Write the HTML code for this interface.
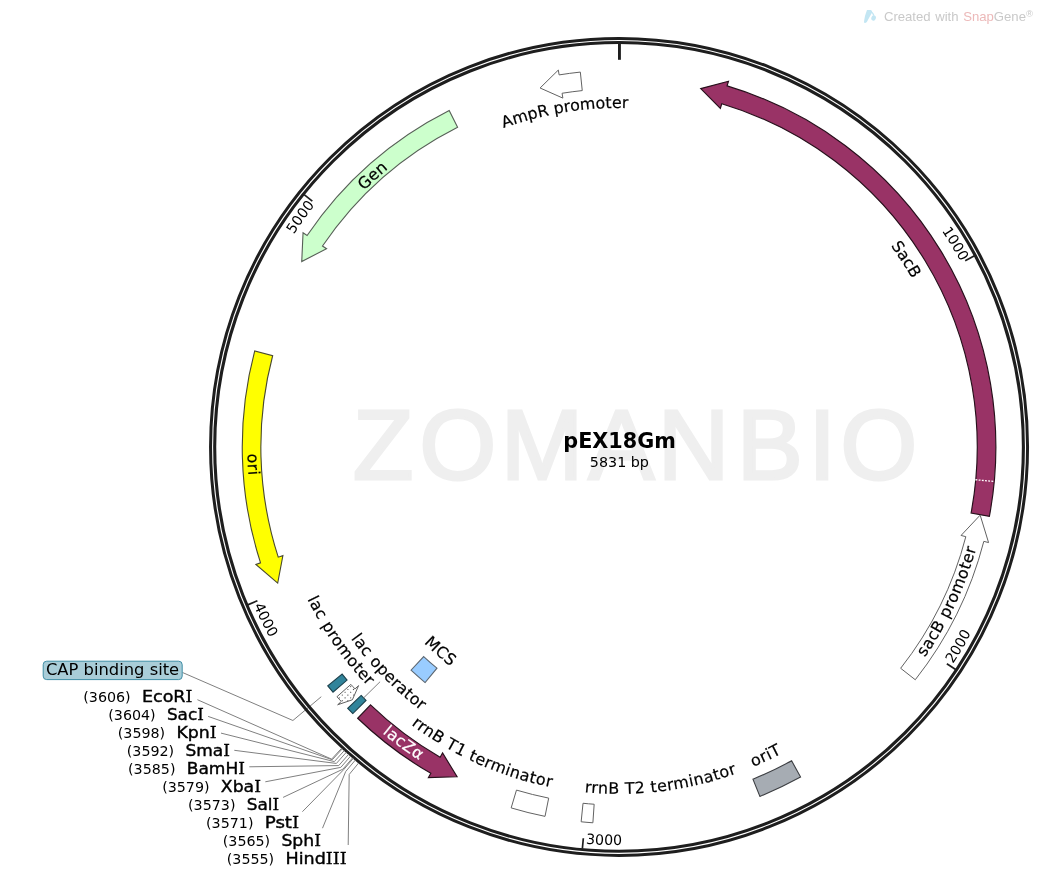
<!DOCTYPE html>
<html><head><meta charset="utf-8"><title>pEX18Gm</title>
<style>html,body{margin:0;padding:0;background:#fff}svg{display:block}</style>
</head><body>
<svg width="1043" height="887" viewBox="0 0 1043 887" font-family='"DejaVu Sans", "Liberation Sans", sans-serif'>
<polyline points="321.25,696.71 292.9,720.49 182.5,672.5" fill="none" stroke="#808080" stroke-width="1"/>
<text x="353 419.5 501 588.5 658 737 808.5 840.5" y="479.2" font-family='"Liberation Sans", sans-serif' font-size="98.5" fill="#efefef" stroke="#efefef" stroke-width="3">ZOMANBIO</text>
<circle cx="619.05" cy="446.9" r="408.5" fill="none" stroke="#1e1e1e" stroke-width="3.0"/>
<circle cx="619.05" cy="446.9" r="404.35" fill="none" stroke="#1e1e1e" stroke-width="3.1"/>
<line x1="619.45" y1="42.9" x2="619.45" y2="59.8" stroke="#1e1e1e" stroke-width="2.9"/>
<line x1="974.45" y1="255.85" x2="965.2" y2="260.82" stroke="#1e1e1e" stroke-width="1.7"/>
<path id="tp1" d="M877.69 157.01 A388.5 388.5 0 0 1 960.53 261.64" fill="none"/>
<text font-size="14.2" text-anchor="end"><textPath href="#tp1" startOffset="100%">1000</textPath></text>
<line x1="955.61" y1="669.48" x2="946.85" y2="663.69" stroke="#1e1e1e" stroke-width="1.7"/>
<path id="tp2" d="M952.87 664 A398.2 398.2 0 0 0 1006.28 539.71" fill="none"/>
<text font-size="14.2" text-anchor="start"><textPath href="#tp2" startOffset="0">2000</textPath></text>
<line x1="582.36" y1="848.73" x2="583.32" y2="838.27" stroke="#1e1e1e" stroke-width="1.7"/>
<path id="tp3" d="M585.89 843.72 A398.2 398.2 0 0 0 720.65 831.92" fill="none"/>
<text font-size="14.2" text-anchor="start"><textPath href="#tp3" startOffset="0">3000</textPath></text>
<line x1="247.75" y1="604.85" x2="257.41" y2="600.74" stroke="#1e1e1e" stroke-width="1.7"/>
<path id="tp4" d="M253.83 605.58 A398.2 398.2 0 0 0 328.03 718.7" fill="none"/>
<text font-size="14.2" text-anchor="start"><textPath href="#tp4" startOffset="0">4000</textPath></text>
<line x1="304.12" y1="194.64" x2="312.32" y2="201.21" stroke="#1e1e1e" stroke-width="1.7"/>
<path id="tp5" d="M251.05 322.37 A388.5 388.5 0 0 1 314.9 205.19" fill="none"/>
<text font-size="14.2" text-anchor="end"><textPath href="#tp5" startOffset="100%">5000</textPath></text>
<path d="M700.73 88.59 L728.49 81.23 L727.08 85.92 A376.8 376.8 0 0 1 989.38 516.44 L971.1 513 A358.2 358.2 0 0 0 721.75 103.74 L720.35 108.43 Z" fill="#993366" stroke="#26101b" stroke-width="1.15" stroke-linejoin="miter" />
<line x1="975.44" y1="479.73" x2="994.56" y2="481.49" stroke="#fff" stroke-width="1.3" stroke-dasharray="1.9 1.3"/>
<path d="M980.16 515.11 L988.57 542.57 L983.82 541.35 A376.8 376.8 0 0 1 915.28 679.76 L900.66 668.27 A358.2 358.2 0 0 0 965.82 536.68 L961.07 535.45 Z" fill="#fff" stroke="#626262" stroke-width="1" stroke-linejoin="miter" />
<path d="M800.58 777.09 A376.8 376.8 0 0 1 759.89 796.39 L752.93 779.14 A358.2 358.2 0 0 0 791.62 760.79 Z" fill="#a6acb3" stroke="#3c3e42" stroke-width="1.1" stroke-linejoin="miter"/>
<path d="M592.88 822.79 A376.8 376.8 0 0 1 581.15 821.79 L583.02 803.28 A358.2 358.2 0 0 0 594.17 804.24 Z" fill="#fff" stroke="#626262" stroke-width="1" stroke-linejoin="miter"/>
<path d="M545.03 816.36 A376.8 376.8 0 0 1 511.16 807.92 L516.48 790.1 A358.2 358.2 0 0 0 548.68 798.12 Z" fill="#fff" stroke="#626262" stroke-width="1" stroke-linejoin="miter"/>
<path d="M457.1 776.79 L428.4 777.57 L430.84 773.33 A376.8 376.8 0 0 1 357.65 718.28 L370.55 704.88 A358.2 358.2 0 0 0 440.13 757.22 L442.58 752.97 Z" fill="#993366" stroke="#26101b" stroke-width="1.15" stroke-linejoin="miter" />
<path d="M352.86 713.59 A376.8 376.8 0 0 1 347.74 708.38 L361.13 695.47 A358.2 358.2 0 0 0 366 700.42 Z" fill="#31849b" stroke="#1b3f4a" stroke-width="1.1" stroke-linejoin="miter"/>
<defs><pattern id="dots" width="4" height="4" patternUnits="userSpaceOnUse" patternTransform="rotate(45)"><rect width="4" height="4" fill="#fff"/><rect x="1" y="1" width="0.9" height="0.9" fill="#111"/></pattern></defs>
<path d="M352.39 699.78 L337.65 704.79 L341.26 701.48 A376.8 376.8 0 0 1 336.97 696.72 L350.89 684.38 A358.2 358.2 0 0 0 354.98 688.92 L358.59 685.61 Z" fill="url(#dots)" stroke="#626262" stroke-width="1" stroke-linejoin="miter" />
<path d="M332.99 692.16 A376.8 376.8 0 0 1 327.78 685.93 L342.15 674.14 A358.2 358.2 0 0 0 347.11 680.05 Z" fill="#31849b" stroke="#1b3f4a" stroke-width="1.1" stroke-linejoin="miter"/>
<path d="M425.12 682.57 A305.2 305.2 0 0 1 411.02 670.22 L423.7 656.61 A286.6 286.6 0 0 0 436.94 668.2 Z" fill="#99ccff" stroke="#5c6670" stroke-width="1.05" stroke-linejoin="miter"/>
<path d="M277.71 583.07 L255.88 564.39 L260.55 562.89 A376.8 376.8 0 0 1 254.65 351.03 L272.64 355.76 A358.2 358.2 0 0 0 278.24 557.16 L282.9 555.65 Z" fill="#ffff00" stroke="#4a4a30" stroke-width="1.1" stroke-linejoin="miter" />
<path d="M301.75 261.49 L303.05 232.8 L307.1 235.55 A376.8 376.8 0 0 1 449.19 110.56 L457.58 127.16 A358.2 358.2 0 0 0 322.5 245.99 L326.56 248.73 Z" fill="#ccffcc" stroke="#565f56" stroke-width="1.1" stroke-linejoin="miter" />
<path d="M540.08 87.99 L558.33 70.06 L559.11 74.9 A376.8 376.8 0 0 1 580.34 72.09 L582.25 90.59 A358.2 358.2 0 0 0 562.07 93.26 L562.85 98.1 Z" fill="#fff" stroke="#626262" stroke-width="1" stroke-linejoin="miter" />
<path id="tp6" d="M302.21 326.34 A339 339 0 0 1 881.87 232.79" fill="none"/>
<text font-size="15.9" fill="#000" stroke="#000" stroke-width="0.2" text-anchor="middle" letter-spacing="0.05" ><textPath href="#tp6" startOffset="50%">AmpR promoter</textPath></text>
<path id="tp7" d="M265.78 523.59 A361.5 361.5 0 0 1 729.27 102.61" fill="none"/>
<text font-size="15.9" fill="#000" stroke="#000" stroke-width="0.2" text-anchor="middle" letter-spacing="0.4" ><textPath href="#tp7" startOffset="50%">Gen</textPath></text>
<path id="tp8" d="M600.41 109.51 A337.9 337.9 0 0 1 920.55 599.45" fill="none"/>
<text font-size="15.9" fill="#000" stroke="#000" stroke-width="0.2" text-anchor="middle" ><textPath href="#tp8" startOffset="50%">SacB</textPath></text>
<path id="tp9" d="M650.23 816.89 A371.3 371.3 0 0 0 923.88 234.9" fill="none"/>
<text font-size="15.9" fill="#000" stroke="#000" stroke-width="0.2" text-anchor="middle" letter-spacing="0.4" ><textPath href="#tp9" startOffset="50%">sacB promoter</textPath></text>
<path id="tp10" d="M422.04 732.55 A347 347 0 0 0 964.93 474.7" fill="none"/>
<text font-size="15.9" fill="#000" stroke="#000" stroke-width="0.2" text-anchor="middle" letter-spacing="0.4" ><textPath href="#tp10" startOffset="50%">oriT</textPath></text>
<path id="tp11" d="M342.29 656.21 A347 347 0 0 0 938.7 581.93" fill="none"/>
<text font-size="15.9" fill="#000" stroke="#000" stroke-width="0.2" text-anchor="middle" letter-spacing="0.4" ><textPath href="#tp11" startOffset="50%">rrnB T2 terminator</textPath></text>
<path id="tp12" d="M273.95 483.17 A347 347 0 0 0 823.01 727.63" fill="none"/>
<text font-size="15.9" fill="#000" stroke="#000" stroke-width="0.2" text-anchor="middle" letter-spacing="0.4" ><textPath href="#tp12" startOffset="50%">rrnB T1 terminator</textPath></text>
<path id="tp13" d="M249.61 407.83 A371.5 371.5 0 0 0 769.93 786.38" fill="none"/>
<text font-size="15.9" fill="#fff" stroke="#fff" stroke-width="0.2" text-anchor="middle" letter-spacing="0.4" ><textPath href="#tp13" startOffset="50%">lacZα</textPath></text>
<path id="tp14" d="M417.96 134.41 A371.6 371.6 0 0 0 448.97 777.29" fill="none"/>
<text font-size="15.9" fill="#000" stroke="#000" stroke-width="0.2" text-anchor="middle" letter-spacing="0.4" ><textPath href="#tp14" startOffset="50%">ori</textPath></text>
<path id="tp15" d="M304.95 299.43 A347 347 0 0 0 648.39 792.66" fill="none"/>
<text font-size="15.9" fill="#000" stroke="#000" stroke-width="0.2" text-anchor="middle" letter-spacing="0.4" ><textPath href="#tp15" startOffset="50%">lac promoter</textPath></text>
<path id="tp16" d="M301.57 357.96 A329.7 329.7 0 0 0 700.76 766.31" fill="none"/>
<text font-size="15.9" fill="#000" stroke="#000" stroke-width="0.2" text-anchor="middle" letter-spacing="0.4" ><textPath href="#tp16" startOffset="50%">lac operator</textPath></text>
<path id="tp17" d="M347.54 393.58 A276.7 276.7 0 0 0 708.63 708.7" fill="none"/>
<text font-size="15.9" fill="#000" stroke="#000" stroke-width="0.2" text-anchor="middle" letter-spacing="0.4" ><textPath href="#tp17" startOffset="50%">MCS</textPath></text>
<line x1="363.56" y1="697.96" x2="380.1" y2="681.7" stroke="#808080" stroke-width="1"/>
<rect x="43.2" y="661.2" width="139" height="18.4" rx="3.5" ry="3.5" fill="#a9cdd8" stroke="#3f8ea6" stroke-width="1"/>
<text x="45.9" y="674.9" font-size="16.4" textLength="133.3" lengthAdjust="spacingAndGlyphs">CAP binding site</text>
<polyline points="341.71,748.18 331.62,759.15 197.4,699.7" fill="none" stroke="#808080" stroke-width="1"/>
<text transform="translate(192.5 701.9) scale(1.0968 1)" text-anchor="end" font-size="16.0" stroke="#000" stroke-width="0.4">EcoR<tspan font-family='"DejaVu Serif", serif' stroke-width="0.3">I</tspan></text>
<text transform="translate(130.7 701.7) scale(1.035 1)" text-anchor="end" font-size="13.8">(3606)</text>
<polyline points="342.36,748.78 332.29,759.76 208.1,716.4" fill="none" stroke="#808080" stroke-width="1"/>
<text transform="translate(203.8 719.9) scale(1.0519 1)" text-anchor="end" font-size="16.0" stroke="#000" stroke-width="0.4">Sac<tspan font-family='"DejaVu Serif", serif' stroke-width="0.3">I</tspan></text>
<text transform="translate(155.7 719.7) scale(1.035 1)" text-anchor="end" font-size="13.8">(3604)</text>
<polyline points="344.31,750.56 334.32,761.61 221,733.1" fill="none" stroke="#808080" stroke-width="1"/>
<text transform="translate(216.7 737.9) scale(1.0860 1)" text-anchor="end" font-size="16.0" stroke="#000" stroke-width="0.4">Kpn<tspan font-family='"DejaVu Serif", serif' stroke-width="0.3">I</tspan></text>
<text transform="translate(165.2 737.7) scale(1.035 1)" text-anchor="end" font-size="13.8">(3598)</text>
<polyline points="346.28,752.33 336.36,763.45 234.3,750.3" fill="none" stroke="#808080" stroke-width="1"/>
<text transform="translate(230 755.9) scale(1.0653 1)" text-anchor="end" font-size="16.0" stroke="#000" stroke-width="0.4">Sma<tspan font-family='"DejaVu Serif", serif' stroke-width="0.3">I</tspan></text>
<text transform="translate(174.2 755.7) scale(1.035 1)" text-anchor="end" font-size="13.8">(3592)</text>
<polyline points="348.6,754.38 338.75,765.57 249.3,766.8" fill="none" stroke="#808080" stroke-width="1"/>
<text transform="translate(245 773.9) scale(1.0654 1)" text-anchor="end" font-size="16.0" stroke="#000" stroke-width="0.4">BamH<tspan font-family='"DejaVu Serif", serif' stroke-width="0.3">I</tspan></text>
<text transform="translate(175.5 773.7) scale(1.035 1)" text-anchor="end" font-size="13.8">(3585)</text>
<polyline points="350.59,756.12 340.82,767.37 265.3,781.8" fill="none" stroke="#808080" stroke-width="1"/>
<text transform="translate(261 791.9) scale(1.0794 1)" text-anchor="end" font-size="16.0" stroke="#000" stroke-width="0.4">Xba<tspan font-family='"DejaVu Serif", serif' stroke-width="0.3">I</tspan></text>
<text transform="translate(209.6 791.7) scale(1.035 1)" text-anchor="end" font-size="13.8">(3579)</text>
<polyline points="352.59,757.85 342.9,769.17 283.1,797.4" fill="none" stroke="#808080" stroke-width="1"/>
<text transform="translate(279.3 809.9) scale(1.0609 1)" text-anchor="end" font-size="16.0" stroke="#000" stroke-width="0.4">Sal<tspan font-family='"DejaVu Serif", serif' stroke-width="0.3">I</tspan></text>
<text transform="translate(235.5 809.7) scale(1.035 1)" text-anchor="end" font-size="13.8">(3573)</text>
<polyline points="353.26,758.43 343.59,769.76 302.4,811.7" fill="none" stroke="#808080" stroke-width="1"/>
<text transform="translate(299.2 827.9) scale(1.1388 1)" text-anchor="end" font-size="16.0" stroke="#000" stroke-width="0.4">Pst<tspan font-family='"DejaVu Serif", serif' stroke-width="0.3">I</tspan></text>
<text transform="translate(253.5 827.7) scale(1.035 1)" text-anchor="end" font-size="13.8">(3571)</text>
<polyline points="355.28,760.14 345.69,771.54 322.5,828.2" fill="none" stroke="#808080" stroke-width="1"/>
<text transform="translate(321 845.9) scale(1.0768 1)" text-anchor="end" font-size="16.0" stroke="#000" stroke-width="0.4">Sph<tspan font-family='"DejaVu Serif", serif' stroke-width="0.3">I</tspan></text>
<text transform="translate(270.2 845.7) scale(1.035 1)" text-anchor="end" font-size="13.8">(3565)</text>
<polyline points="358.67,762.96 349.2,774.46 348.2,845" fill="none" stroke="#808080" stroke-width="1"/>
<text transform="translate(346.7 863.9) scale(1.0998 1)" text-anchor="end" font-size="16.0" stroke="#000" stroke-width="0.4">Hind<tspan font-family='"DejaVu Serif", serif' stroke-width="0.3">III</tspan></text>
<text transform="translate(274.2 863.7) scale(1.035 1)" text-anchor="end" font-size="13.8">(3555)</text>
<text x="619.6" y="447.7" text-anchor="middle" font-size="20.75" font-weight="bold">pEX18Gm</text>
<text x="619.4" y="466.5" text-anchor="middle" font-size="14.3">5831 bp</text>
<g fill="#c3e6f3"><path d="M867 10 L870.6 10 C872.3 10.6 872.4 11.8 871.8 12.9 L866.8 22 C865.6 23.4 864 23.3 864 22 C864.4 17.8 865.5 13.8 867 10 Z"/><path d="M871 11 C873.2 12.4 874.2 14 874.4 15.6 L873.2 15.8 C872.8 14.2 872 13 870.6 12 Z"/><ellipse cx="873.6" cy="18" rx="2.25" ry="2.7" transform="rotate(20 873.6 18)"/></g>
<text x="883.9" y="20.7" font-family='"Liberation Sans", sans-serif' font-size="13.15" word-spacing="0.9" fill="#c9c9c9">Created with <tspan fill="#ecb9b9">Snap</tspan>Gene<tspan font-size="9.5" dy="-4.2">®</tspan></text>
</svg>
</body></html>
